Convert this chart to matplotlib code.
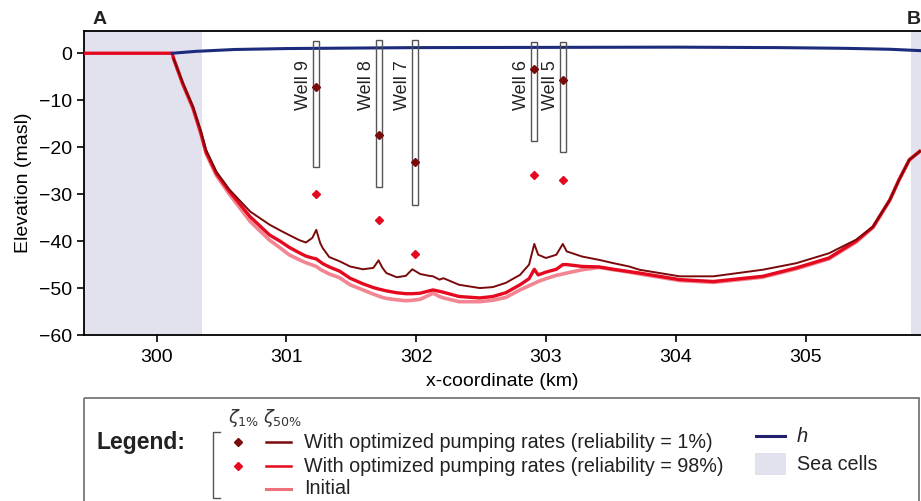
import numpy as np
import matplotlib
matplotlib.use('Agg')
import matplotlib.pyplot as plt
from matplotlib.patches import Rectangle

plt.rcParams['font.family'] = ['Liberation Sans', 'DejaVu Sans']

# --- data -----------------------------------------------------------------
# interface position along the transect (km), shared by the three series
x_km = [300.13, 300.20, 300.28, 300.34, 300.38, 300.46, 300.56, 300.72, 300.87,
        300.95, 301.02, 301.10, 301.15, 301.20, 301.23, 301.26, 301.28, 301.33,
        301.41, 301.49, 301.59, 301.67, 301.71, 301.74, 301.77, 301.85, 301.92,
        301.97, 302.03, 302.10, 302.13, 302.18, 302.21, 302.33, 302.49, 302.59,
        302.69, 302.80, 302.87, 302.91, 302.94, 303.00, 303.08, 303.13, 303.16,
        303.28, 303.41, 303.52, 303.64, 303.72, 304.03, 304.29, 304.67, 304.93,
        305.18, 305.39, 305.52, 305.65, 305.72, 305.80, 305.88]

zeta_rel1 = [-1.1, -6.2, -11.4, -16.5, -20.5, -25.2, -29.0, -33.7, -36.5,
             -37.7, -38.7, -39.8, -40.3, -39.3, -37.6, -40.4, -41.5, -43.4,
             -44.3, -45.4, -46.0, -45.7, -44.1, -45.7, -46.8, -47.7, -47.4,
             -46.0, -47.0, -47.4, -47.5, -48.2, -47.9, -49.3, -50.0, -49.8,
             -48.9, -47.2, -45.0, -40.6, -42.9, -43.6, -42.9, -40.6, -42.2,
             -43.3, -44.0, -44.7, -45.4, -46.1, -47.5, -47.5, -46.1, -44.7,
             -42.6, -39.7, -36.9, -31.2, -27.0, -22.7, -20.9]

zeta_rel98 = [-1.1, -6.4, -11.6, -16.9, -21.0, -25.6, -29.4, -34.8, -38.7,
              -40.0, -41.3, -42.5, -43.2, -43.6, -43.8, -44.4, -44.8, -45.5,
              -46.4, -47.9, -49.1, -49.9, -50.2, -50.4, -50.6, -51.0, -51.2,
              -51.2, -51.1, -50.6, -50.4, -50.7, -50.9, -51.8, -52.1, -51.8,
              -51.0, -49.3, -48.0, -46.0, -47.2, -46.6, -46.0, -45.0, -45.0,
              -45.4, -45.5, -46.0, -46.5, -46.8, -48.2, -48.6, -47.5, -45.7,
              -43.6, -40.0, -37.0, -31.2, -27.0, -22.7, -20.9]

zeta_init = [-1.1, -6.5, -11.8, -17.1, -21.3, -26.0, -30.0, -35.8, -39.8,
             -41.4, -42.9, -44.0, -44.6, -45.1, -45.4, -46.0, -46.3, -47.0,
             -47.8, -49.3, -50.4, -51.3, -51.7, -52.0, -52.2, -52.5, -52.7,
             -52.6, -52.4, -51.5, -51.1, -51.8, -52.1, -52.9, -52.9, -52.6,
             -52.0, -50.4, -49.5, -49.0, -48.6, -48.0, -47.3, -47.0, -46.8,
             -46.1, -45.6, -46.1, -46.6, -47.0, -48.4, -48.8, -47.7, -45.9,
             -43.8, -40.2, -37.1, -31.3, -27.0, -22.7, -20.9]

# interface sitting on the sea floor (zero) on the left
x_sea_left = [299.44, 300.12]
zeta_sea_left = [0.0, 0.0]

# head h
x_head = [300.12, 300.30, 300.60, 301.00, 301.50, 302.00, 303.00, 304.00,
          304.80, 305.30, 305.65, 305.89]
head = [0.0, 0.4, 0.8, 1.0, 1.1, 1.2, 1.25, 1.3, 1.2, 1.05, 0.85, 0.55]

# wells
well_names = ['Well 9', 'Well 8', 'Well 7', 'Well 6', 'Well 5']
well_x = [301.23, 301.71, 301.99, 302.91, 303.13]
screen_top = [2.7, 2.8, 2.8, 2.4, 2.4]
screen_bot = [-24.3, -28.5, -32.3, -18.7, -21.0]
well_zeta1 = [-7.2, -17.45, -23.1, -3.3, -5.7]
well_zeta98 = [-30.0, -35.5, -42.8, -25.9, -27.0]

# sea cells
sea_left = (299.44, 300.35)
sea_right = (305.81, 305.95)

c_dark = '#7a0a0a'
c_red = '#e5091f'
c_init = '#f0707e'
c_head = '#1d2b7c'
c_sea = '#e2e2ef'

fig = plt.figure(figsize=(9.21, 5.01), dpi=100)
ax = fig.add_axes([0.0912, 0.3313, 0.9088, 0.6074])

ax.axvspan(*sea_left, color=c_sea, lw=0, zorder=0)
ax.axvspan(*sea_right, color=c_sea, lw=0, zorder=0)

ax.plot(x_km, zeta_init, color=c_init, lw=2.6, alpha=0.85, zorder=2)
ax.plot(x_sea_left + x_km, zeta_sea_left + zeta_rel98, color=c_red, lw=2.4, zorder=3)
ax.plot(x_km, zeta_rel1, color=c_dark, lw=1.4, zorder=4)
ax.plot(x_head, head, color=c_head, lw=2.2, zorder=5)

for i in range(len(well_x)):
    w = 0.046
    ax.add_patch(Rectangle((well_x[i] - w / 2, screen_bot[i]), w,
                           screen_top[i] - screen_bot[i], fill=False,
                           ec='#555555', lw=1.0, zorder=6))
    ax.text(well_x[i] - 0.03, -1.5, well_names[i], rotation=90, ha='right',
            va='top', fontsize=13, color='#222222', zorder=7)
ax.plot(well_x, well_zeta1, 'D', color=c_dark, ms=4, zorder=8)
ax.plot(well_x, well_zeta98, 'D', color=c_red, ms=4, zorder=8)

ax.set_xlim(299.44, 305.89)
ax.set_ylim(-60, 4.8)
ax.set_xticks([300, 301, 302, 303, 304, 305])
ax.set_yticks([0, -10, -20, -30, -40, -50, -60])
ax.tick_params(labelsize=14, length=5, width=1.2, direction='out')
ax.tick_params(axis='x', pad=5)
for s in ['left', 'bottom', 'top']:
    ax.spines[s].set_linewidth(1.3)
ax.spines['right'].set_visible(False)
ax.set_xlabel('x-coordinate (km)', fontsize=14, labelpad=5)
ax.set_ylabel('Elevation (masl)', fontsize=14, labelpad=5)

# overlay in pixel units for labels and the legend panel
ov = fig.add_axes([0, 0, 1, 1], zorder=10)
ov.set_xlim(0, 921)
ov.set_ylim(501, 0)
ov.axis('off')
ov.patch.set_alpha(0)

ov.text(100, 19, 'A', fontsize=14, fontweight='bold', ha='center', va='center', color='#222222')
ov.text(914, 19, 'B', fontsize=14, fontweight='bold', ha='center', va='center', color='#222222')

ov.add_patch(Rectangle((84, 398), 835, 120, fill=False, ec='#777777', lw=1.3))
ov.text(96, 442, 'Legend:', fontsize=16.5, fontweight='bold', ha='left', va='center', color='#222222')
ov.plot([220, 213, 213, 220], [432, 432, 498, 498], color='#555555', lw=1.0)
ov.text(244, 418, r'$\zeta_{1\%}$', fontsize=13, ha='center', va='center', color='#333333')
ov.text(283, 418, r'$\zeta_{50\%}$', fontsize=13, ha='center', va='center', color='#333333')
ov.plot([238], [442], 'D', color=c_dark, ms=4)
ov.plot([238], [466], 'D', color=c_red, ms=4)
ov.plot([266, 291], [442, 442], color=c_dark, lw=1.8)
ov.plot([266, 291], [466, 466], color=c_red, lw=1.8)
ov.plot([266, 291], [489, 489], color=c_init, lw=2.2)
ov.text(304, 442, 'With optimized pumping rates (reliability = 1%)', fontsize=14.2,
        ha='left', va='center', color='#222222')
ov.text(304, 466, 'With optimized pumping rates (reliability = 98%)', fontsize=14.2,
        ha='left', va='center', color='#222222')
ov.text(304, 489, 'Initial', fontsize=14.2, ha='left', va='center', color='#222222')
ov.plot([756, 785], [436, 436], color='#1f1f6b', lw=2.2)
ov.text(797, 436, 'h', fontsize=14.5, style='italic', ha='left', va='center', color='#222222')
ov.add_patch(Rectangle((755, 453), 31, 22, color=c_sea, lw=0))
ov.text(797, 464, 'Sea cells', fontsize=14.2, ha='left', va='center', color='#222222')

fig.savefig('out.png', dpi=100)
